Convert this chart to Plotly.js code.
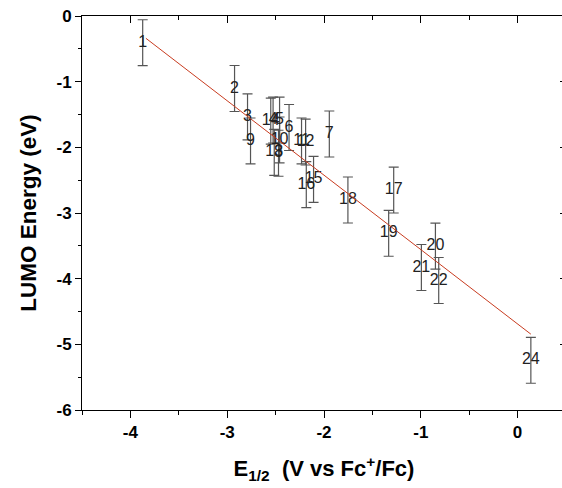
<!DOCTYPE html>
<html>
<head>
<meta charset="utf-8">
<script src="https://cdn.plot.ly/plotly-3.0.1.min.js"></script>
<style>
html,body{margin:0;padding:0;overflow:hidden;background:#fff;}
#chart{width:566px;height:488px;}
</style>
</head>
<body>
<div id="chart"></div>
<script>
// Compound labels, E1/2 (V vs Fc+/Fc) and LUMO energy (eV)
const labels = ["1","2","3","4","5","6","7","8","9","10","11","12","13","14","15","16","17","18","19","20","21","22","24"];
const e12    = [-3.873,-2.924,-2.79,-2.526,-2.459,-2.361,-1.945,-2.47,-2.759,-2.459,-2.232,-2.190,-2.514,-2.55,-2.108,-2.183,-1.280,-1.753,-1.332,-0.849,-0.994,-0.815,0.137];
const lumo   = [-0.407,-1.104,-1.535,-1.584,-1.584,-1.698,-1.797,-2.09,-1.903,-1.888,-1.903,-1.919,-2.076,-1.60,-2.487,-2.569,-2.650,-2.802,-3.309,-3.505,-3.830,-4.028,-5.243];
const lumoErr = [0.35,0.35,0.35,0.35,0.35,0.35,0.35,0.35,0.35,0.35,0.35,0.35,0.35,0.35,0.35,0.35,0.35,0.35,0.35,0.35,0.35,0.35,0.35];

// Linear fit
const fitSlope = -1.133;
const fitIntercept = -4.69;
const fitX = [-3.84, 0.137];

const xTickVals = [-4,-3,-2,-1,0];
const xTickText = ["-4","-3","-2","-1","0"];
const yTickVals = [0,-1,-2,-3,-4,-5,-6];
const yTickText = ["0","-1","-2","-3","-4","-5","-6"];

const fitY = fitX.map(x => fitSlope * x + fitIntercept);

const tickFont = {family: "Liberation Sans, Arial, sans-serif", size: 17, color: "#000", weight: "bold"};

const traces = [
  {
    type: "scatter", mode: "text",
    x: e12, y: lumo, text: labels,
    textposition: "middle center",
    textfont: {family: "Liberation Sans, Arial, sans-serif", size: 16, color: "#222"},
    error_y: {type: "data", array: lumoErr, visible: true, color: "#555", thickness: 1.2, width: 5},
    hoverinfo: "skip", showlegend: false, cliponaxis: false
  },
  {
    type: "scatter", mode: "lines",
    x: fitX, y: fitY,
    line: {color: "#c83c20", width: 1},
    showlegend: false, hoverinfo: "skip"
  },
  {type: "scatter", x: [], y: [], xaxis: "x2", yaxis: "y2", showlegend: false}
];

const layout = {
  width: 566, height: 488,
  margin: {l: 82, r: 0, t: 16, b: 78},
  paper_bgcolor: "#fff", plot_bgcolor: "#fff",
  showlegend: false,
  xaxis: {
    range: [-4.5, 0.5], tickvals: xTickVals, ticktext: xTickText,
    ticks: "outside", ticklen: 7, tickwidth: 1, tickcolor: "#000",
    minor: {dtick: 0.5, ticks: "outside", ticklen: 4, tickcolor: "#000", showgrid: false},
    showline: true, linecolor: "#000", linewidth: 1,
    showgrid: false, zeroline: false, tickfont: tickFont,
    title: {text: "E<sub>1/2</sub>  (V vs Fc<sup>+</sup>/Fc)",
            font: {family: "Liberation Sans, Arial, sans-serif", size: 22, color: "#000", weight: "bold"},
            standoff: 19}
  },
  yaxis: {
    range: [-6, 0], tickvals: yTickVals, ticktext: yTickText,
    ticks: "outside", ticklen: 6, tickwidth: 1, tickcolor: "#000",
    minor: {dtick: 0.5, ticks: "outside", ticklen: 3, tickcolor: "#000", showgrid: false},
    showline: true, linecolor: "#000", linewidth: 1,
    showgrid: false, zeroline: false, tickfont: tickFont,
    title: {text: "LUMO Energy (eV)",
            font: {family: "Liberation Sans, Arial, sans-serif", size: 22.5, color: "#000", weight: "bold"},
            standoff: 13}
  },
  xaxis2: {
    range: [-4.5, 0.5], overlaying: "x", side: "top", anchor: "y",
    tickvals: xTickVals, showticklabels: false,
    ticks: "inside", ticklen: 7, tickcolor: "#000",
    minor: {dtick: 0.5, ticks: "inside", ticklen: 4, tickcolor: "#000", showgrid: false},
    showline: true, linecolor: "#000", linewidth: 1,
    showgrid: false, zeroline: false
  },
  yaxis2: {
    range: [-6, 0], overlaying: "y", side: "right", anchor: "x",
    tickvals: yTickVals, showticklabels: false,
    ticks: "inside", ticklen: 6, tickcolor: "#000",
    minor: {dtick: 0.5, ticks: "inside", ticklen: 3, tickcolor: "#000", showgrid: false},
    showline: true, linecolor: "#000", linewidth: 1,
    showgrid: false, zeroline: false
  }
};

Plotly.newPlot("chart", traces, layout, {displayModeBar: false, staticPlot: true});
</script>
</body>
</html>
